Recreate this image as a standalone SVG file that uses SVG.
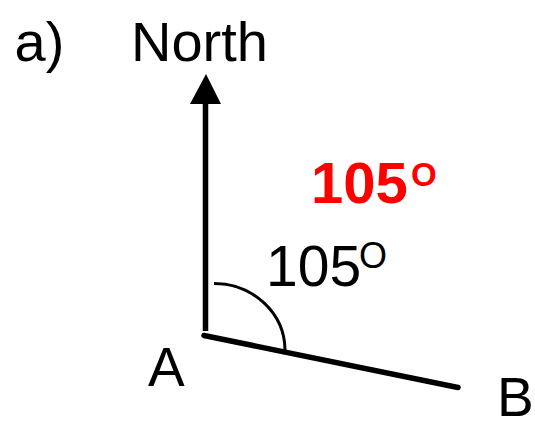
<svg xmlns="http://www.w3.org/2000/svg" width="535" height="422" viewBox="0 0 535 422">
<style>
.t{font-family:"Liberation Sans",Arial,sans-serif;fill:#000}
.r{font-family:"Liberation Sans",Arial,sans-serif;fill:#ff0000;font-weight:bold}
.ln{stroke:#000;fill:none}
</style>
<rect width="535" height="422" fill="#fff"/>
<g id="connectors">
<line class="ln" x1="205.5" y1="331" x2="205.5" y2="100" stroke-width="5.5"/>
<polygon points="206,74 190,104 221,104" fill="#000"/>
<line class="ln" x1="204" y1="335.5" x2="458" y2="387.5" stroke-width="5.5" stroke-linecap="round"/>
<path class="ln" d="M214,283.5 A71,67 0 0 1 285,350" stroke-width="3"/>
</g>
<g id="label-a"><text class="t" x="14.5" y="61" font-size="56">a)</text></g>
<g id="north"><text class="t" x="131" y="61" font-size="56">North</text></g>
<g id="A"><text class="t" x="148" y="386" font-size="55">A</text></g>
<g id="B"><text class="t" x="497" y="415.5" font-size="55">B</text></g>
<g id="angle-black"><text class="t" x="266" y="286" font-size="57">105</text><text class="t" x="359" y="268" font-size="36">O</text></g>
<g id="angle-red"><text class="r" x="311" y="203" font-size="58">105</text><text class="r" x="411" y="186" font-size="33">O</text></g>
</svg>
